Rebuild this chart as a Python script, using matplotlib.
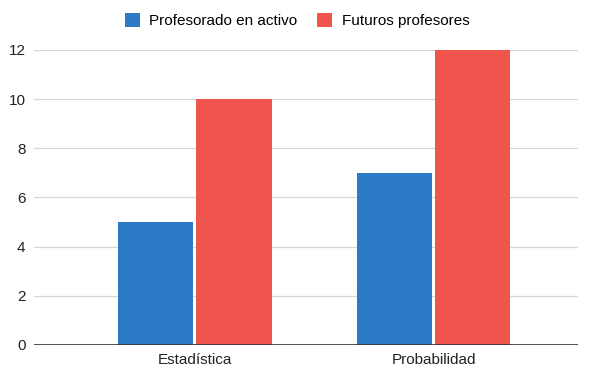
import matplotlib.pyplot as plt
import numpy as np

plt.rcParams['font.family'] = ['Liberation Sans', 'DejaVu Sans']

categorias = ['Estadística', 'Probabilidad']
series = ['Profesorado en activo', 'Futuros profesores']
activo = [5, 7]
futuros = [10, 12]
colores = ['#2a7ac6', '#ef554d']

fig = plt.figure(figsize=(5.94, 3.67), dpi=100)
ax = fig.add_axes([0.057, 0.060, 0.916, 0.804])

x = np.arange(len(categorias))
w = 0.314
gap = 0.0065
ax.bar(x - w / 2 - gap, activo, w, color=colores[0], label=series[0], zorder=3)
ax.bar(x + w / 2 + gap, futuros, w, color=colores[1], label=series[1], zorder=3)

ax.set_xlim(-0.674, 1.603)
ax.set_ylim(0, 12)
ax.set_yticks(range(0, 13, 2))
ax.set_xticks(x)
ax.set_xticklabels(categorias)
ax.yaxis.grid(True, color='#d6d6d6', linewidth=0.9, zorder=0)
ax.axhline(0, color='#333333', linewidth=1.2, zorder=4)
for s in ax.spines.values():
    s.set_visible(False)
ax.tick_params(length=0, labelsize=11, colors='#222222')
ax.tick_params(axis='y', pad=6)
ax.tick_params(axis='x', pad=6)

fig.legend(loc='center', bbox_to_anchor=(0.5, 0.943), ncol=2, frameon=False,
           fontsize=11, handlelength=1.0, handleheight=1.0, columnspacing=1.3,
           handletextpad=0.6)

fig.savefig('out.png', dpi=100)
